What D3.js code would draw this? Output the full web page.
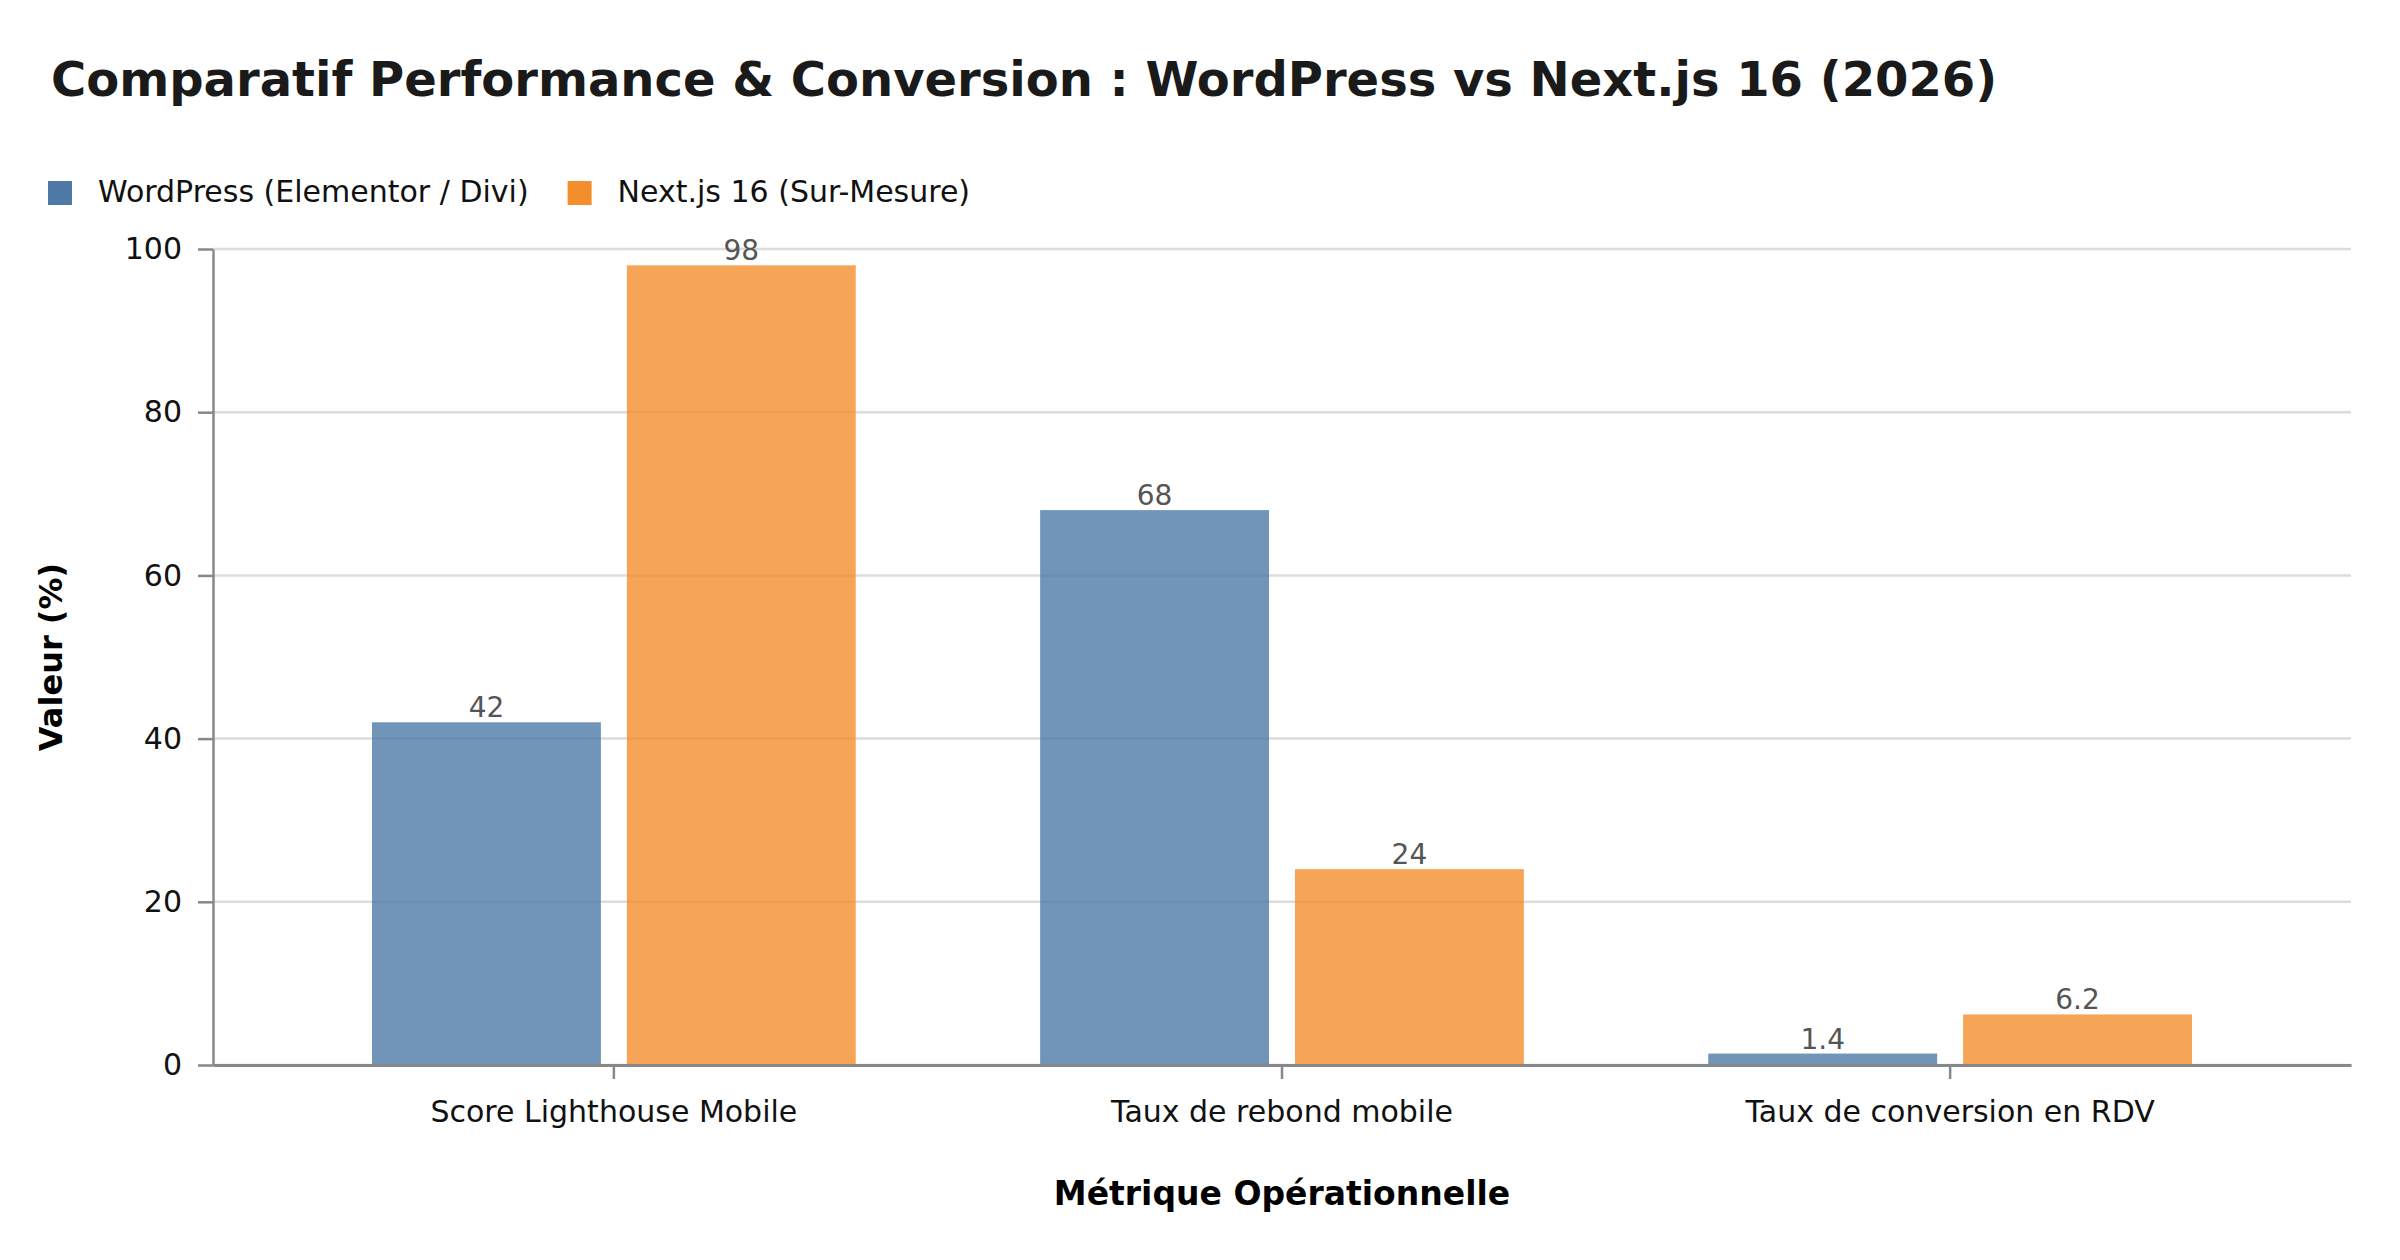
<!DOCTYPE html>
<html>
<head>
<meta charset="utf-8">
<script src="https://cdn.jsdelivr.net/npm/d3@7"></script>
<style>
  html, body { margin: 0; padding: 0; background: #fff; }
  svg { display: block; font-family: "DejaVu Sans", sans-serif; }
</style>
</head>
<body>
<svg id="chart" width="2400" height="1260"></svg>
<script>
// Data
const categories = ['Score Lighthouse Mobile', 'Taux de rebond mobile', 'Taux de conversion en RDV'];
const seriesNames = ['WordPress (Elementor / Divi)', 'Next.js 16 (Sur-Mesure)'];
const wordpressValues = [42, 68, 1.4];
const nextjsValues = [98, 24, 6.2];
const yTicks = [0, 20, 40, 60, 80, 100];

const colors = ['#4e79a7', '#f28e2b'];

const W = 2400, H = 1260;
const margin = { left: 213, right: 49, top: 249, bottom: 195 };
const innerW = W - margin.left - margin.right;
const innerH = H - margin.top - margin.bottom;

const svg = d3.select('#chart');
svg.append('rect').attr('width', W).attr('height', H).attr('fill', '#fff');

// Title
svg.append('text')
  .attr('x', 51).attr('y', 96)
  .attr('font-size', 48).attr('font-weight', 'bold')
  .attr('fill', '#1a1a1a')
  .text('Comparatif Performance & Conversion : WordPress vs Next.js 16 (2026)');

// Legend
let lx = 48;
seriesNames.forEach((name, i) => {
  svg.append('rect')
    .attr('x', lx).attr('y', 181).attr('width', 24).attr('height', 24)
    .attr('fill', colors[i]);
  const t = svg.append('text')
    .attr('x', lx + 50).attr('y', 202)
    .attr('font-size', 30).attr('fill', '#111')
    .text(name);
  lx = lx + 50 + t.node().getComputedTextLength() + 39;
});

const g = svg.append('g').attr('transform', `translate(${margin.left},${margin.top})`);

// Scales
const x0 = d3.scaleBand()
  .domain(categories)
  .range([0, innerW])
  .paddingInner(0)
  .paddingOuter(0.1);

const groupHalf = x0.step() * 0.362;
const x1 = d3.scaleBand()
  .domain(seriesNames)
  .range([-groupHalf, groupHalf])
  .paddingInner(0.102);

const y = d3.scaleLinear().domain([0, 100]).range([innerH, 0]);

// Grid lines
g.append('g')
  .selectAll('line')
  .data(yTicks)
  .join('line')
  .attr('x1', 0).attr('x2', innerW)
  .attr('y1', d => y(d)).attr('y2', d => y(d))
  .attr('stroke', '#dcdcdc').attr('stroke-width', 2.5);

// Bars
const rows = categories.map((c, i) => ({
  category: c,
  values: [
    { series: seriesNames[0], value: wordpressValues[i], color: colors[0] },
    { series: seriesNames[1], value: nextjsValues[i], color: colors[1] }
  ]
}));

const groups = g.append('g')
  .selectAll('g')
  .data(rows)
  .join('g')
  .attr('transform', d => `translate(${x0(d.category) + x0.bandwidth() / 2},0)`);

groups.selectAll('rect')
  .data(d => d.values)
  .join('rect')
  .attr('x', d => x1(d.series))
  .attr('width', x1.bandwidth())
  .attr('y', d => y(d.value))
  .attr('height', d => y(0) - y(d.value))
  .attr('fill', d => d.color)
  .attr('fill-opacity', 0.8);

// Value labels
groups.selectAll('text')
  .data(d => d.values)
  .join('text')
  .attr('x', d => x1(d.series) + x1.bandwidth() / 2)
  .attr('y', d => y(d.value) - 5)
  .attr('text-anchor', 'middle')
  .attr('font-size', 28)
  .attr('fill', '#555')
  .text(d => d.value);

// Y axis
const yAxis = g.append('g')
  .call(d3.axisLeft(y).tickValues(yTicks).tickSize(15).tickPadding(16).tickSizeOuter(0));
yAxis.select('.domain').attr('stroke', '#888').attr('stroke-width', 2.5);
yAxis.selectAll('.tick line').attr('stroke', '#888').attr('stroke-width', 2.5);
yAxis.selectAll('.tick text')
  .attr('font-size', 30).attr('fill', '#111')
  .attr('font-family', '"DejaVu Sans", sans-serif');

// X axis
const xAxis = g.append('g')
  .attr('transform', `translate(0,${innerH})`)
  .call(d3.axisBottom(x0).tickSize(14).tickPadding(22).tickSizeOuter(0));
xAxis.select('.domain').attr('stroke', '#888').attr('stroke-width', 3);
xAxis.selectAll('.tick line').attr('stroke', '#888').attr('stroke-width', 2.5);
xAxis.selectAll('.tick text')
  .attr('font-size', 30).attr('fill', '#111')
  .attr('font-family', '"DejaVu Sans", sans-serif');

// Axis titles
svg.append('text')
  .attr('x', margin.left + innerW / 2).attr('y', 1205)
  .attr('text-anchor', 'middle')
  .attr('font-size', 33).attr('font-weight', 'bold').attr('fill', '#000')
  .text('Métrique Opérationnelle');

svg.append('text')
  .attr('transform', `translate(62,${margin.top + innerH / 2}) rotate(-90)`)
  .attr('text-anchor', 'middle')
  .attr('font-size', 32).attr('font-weight', 'bold').attr('fill', '#000')
  .text('Valeur (%)');
</script>
</body>
</html>
